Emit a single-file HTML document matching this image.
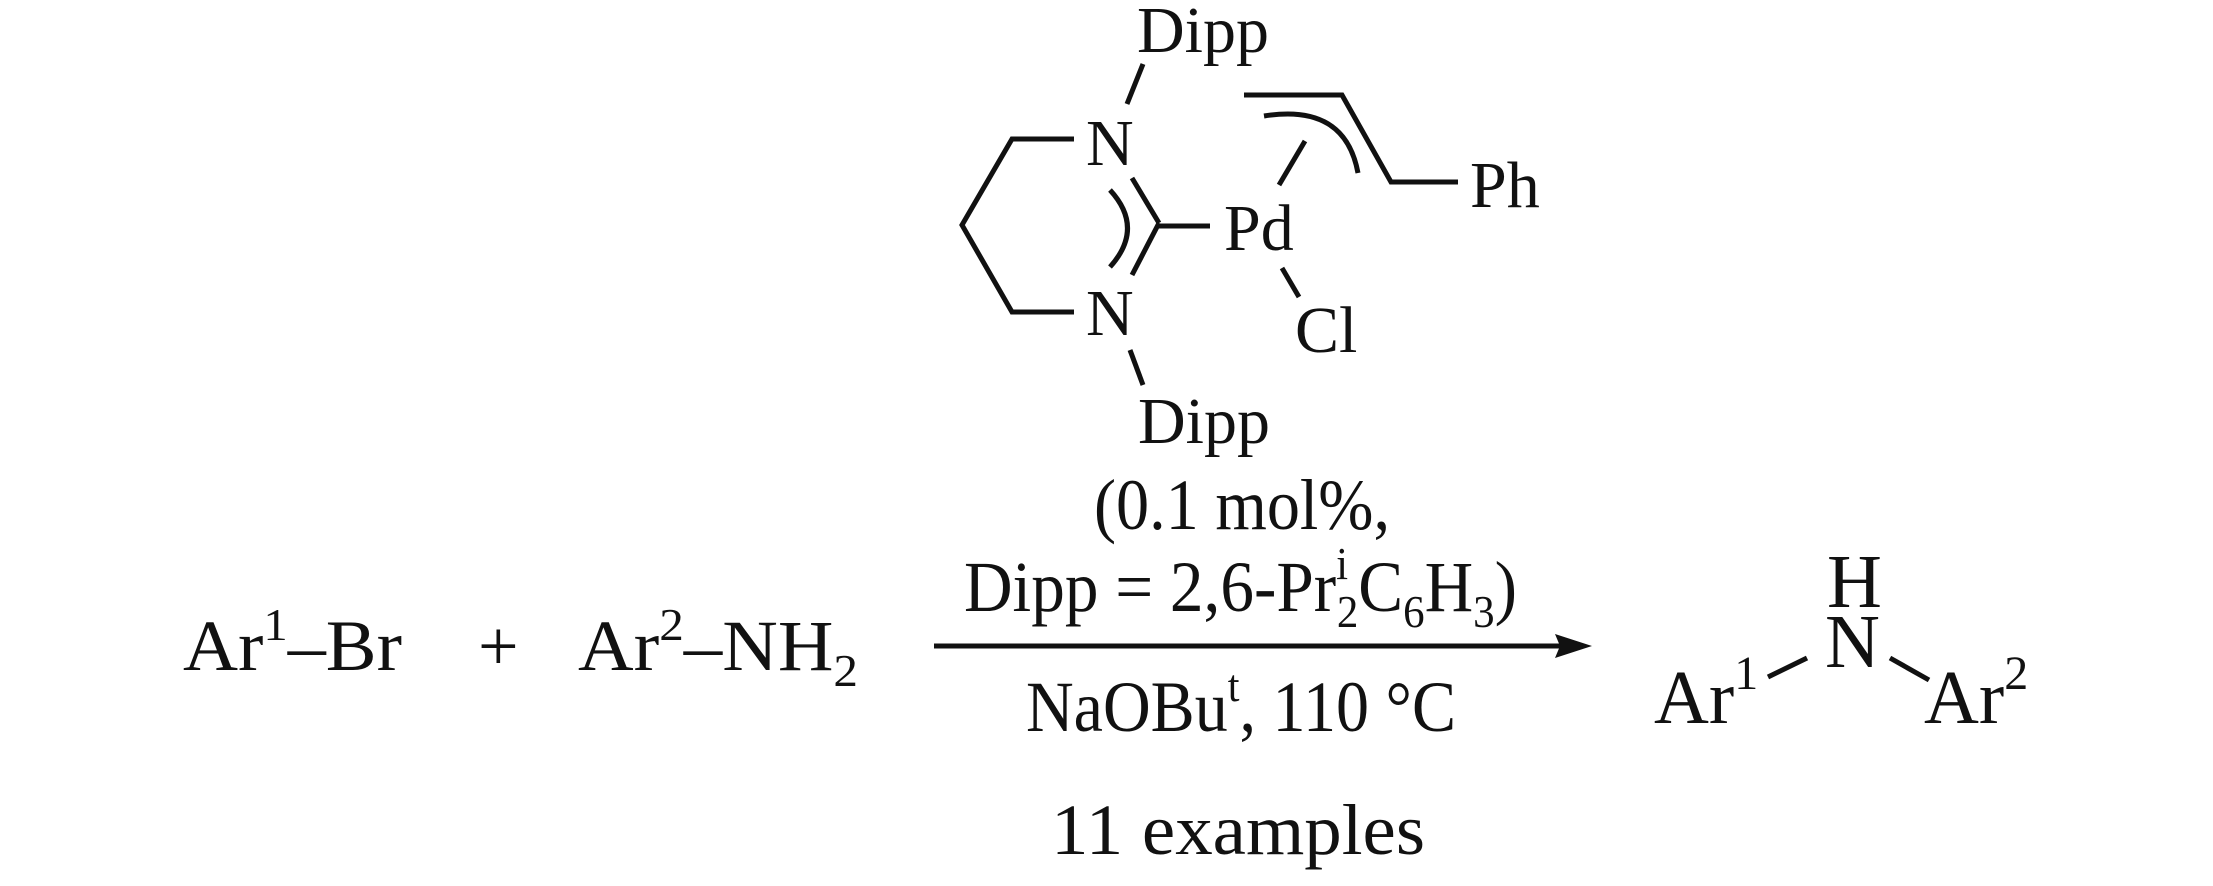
<!DOCTYPE html>
<html><head><meta charset="utf-8"><style>
html,body{margin:0;padding:0;background:#fff}
svg{display:block}
text{font-family:"Liberation Serif",serif;fill:#111}
</style></head><body>
<svg width="2213" height="886" viewBox="0 0 2213 886" xmlns="http://www.w3.org/2000/svg">
<g stroke="#111" stroke-width="5" fill="none" stroke-linecap="butt">
<polyline points="1074,139 1012,139 962,225 1012,312 1074,312"/>
<line x1="1143" y1="64" x2="1127" y2="104"/>
<line x1="1130" y1="350" x2="1143" y2="385"/>
<line x1="1132" y1="178" x2="1159" y2="223"/>
<line x1="1159" y1="223" x2="1132" y2="275"/>
<path d="M1110,190 Q1145,228 1110,267"/>
<line x1="1159" y1="226" x2="1210" y2="226"/>
<line x1="1279" y1="185" x2="1305" y2="141"/>
<polyline points="1244,95 1342,95 1391,182 1458,182"/>
<path d="M1264,116 Q1345,103 1358,173"/>
<line x1="1282" y1="268" x2="1299" y2="297"/>
<line x1="1768" y1="677" x2="1807" y2="658"/>
<line x1="1890" y1="658" x2="1929" y2="680"/>
<line x1="934" y1="646" x2="1560" y2="646"/>
</g>
<polygon points="1592,646 1555,634 1560,646 1555,658" fill="#111"/>

<g font-size="66">
<text x="1137" y="52">Dipp</text>
<text x="1086" y="165">N</text>
<text x="1086" y="335">N</text>
<text x="1224" y="250">Pd</text>
<text x="1470" y="207">Ph</text>
<text x="1295" y="352">Cl</text>
<text x="1138" y="443">Dipp</text>
</g>

<g font-size="72">
<text x="183" y="670" textLength="219" lengthAdjust="spacingAndGlyphs">Ar<tspan font-size="46" dy="-30">1</tspan><tspan dy="30">–Br</tspan></text>
<text x="478" y="670">+</text>
<text x="578" y="670" textLength="280" lengthAdjust="spacingAndGlyphs">Ar<tspan font-size="46" dy="-30">2</tspan><tspan dy="30">–NH</tspan><tspan font-size="46" dy="16">2</tspan></text>
<text x="1094" y="529" textLength="296" lengthAdjust="spacingAndGlyphs">(0.1 mol%,</text>
<text x="964" y="611" textLength="553" lengthAdjust="spacingAndGlyphs">Dipp = 2,6-Pr<tspan font-size="46" dy="-32">i</tspan><tspan font-size="46" dx="-12" dy="48">2</tspan><tspan dy="-16">C</tspan><tspan font-size="46" dy="16">6</tspan><tspan dy="-16">H</tspan><tspan font-size="46" dy="16">3</tspan><tspan dy="-16">)</tspan></text>
<text x="1026" y="731" textLength="430" lengthAdjust="spacingAndGlyphs">NaOBu<tspan font-size="46" dy="-30">t</tspan><tspan dy="30">, 110 °C</tspan></text>
<text x="1051" y="854" textLength="374" lengthAdjust="spacingAndGlyphs">11 examples</text>
</g>
<g font-size="76">
<text x="1827" y="607">H</text>
<text x="1825" y="667">N</text>
<text x="1654" y="723">Ar<tspan font-size="48" dy="-34">1</tspan></text>
<text x="1924" y="723">Ar<tspan font-size="48" dy="-34">2</tspan></text>
</g>
</svg>
</body></html>
